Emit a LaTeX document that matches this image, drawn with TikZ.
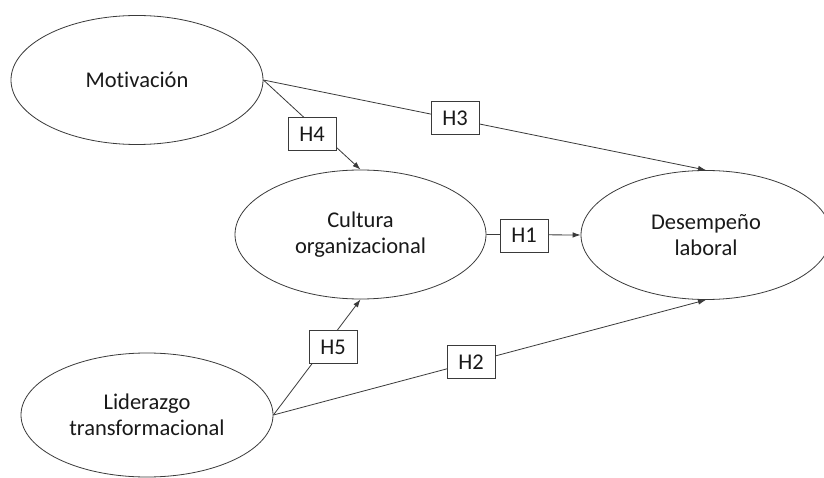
\documentclass[tikz,border=0pt]{standalone}
\usepackage{fontspec}
\setmainfont{Carlito}[RawFeature=-liga]
\usetikzlibrary{shapes.geometric,arrows.meta}
\pgfdeclarelayer{paper}
\pgfdeclarelayer{background}
\pgfsetlayers{paper,background,main}
\definecolor{linegray}{HTML}{3A3A3A}
\tikzset{
  construct/.style={ellipse, draw=linegray, line width=0.8pt, inner sep=0pt, align=center,
    font=\fontsize{22.5}{26}\selectfont, text=black!90},
  hyp/.style={rectangle, draw=linegray, line width=0.8pt, fill=white, minimum width=48pt,
    minimum height=33pt, inner sep=0pt, font=\fontsize{22.5}{26}\selectfont, text=black!90},
  path/.style={draw=linegray, line width=0.8pt},
  arrowpath/.style={path, -{Latex[length=8pt,width=5.5pt]}}
}
\begin{document}
\begin{tikzpicture}[x=1pt,y=-1pt]
\useasboundingbox (0,0) rectangle (824,478);
\begin{pgfonlayer}{paper}
\fill[white] (0,0) rectangle (824,478);
\end{pgfonlayer}
\node[construct, minimum width=252pt, minimum height=129pt] (mot) at (137,80) {Motivación};
\node[construct, minimum width=251pt, minimum height=129pt] (cul) at (360.5,234.5) {Cultura\\organizacional};
\node[construct, minimum width=250pt, minimum height=129pt] (des) at (706,235) {Desempeño\\laboral};
\node[construct, minimum width=252pt, minimum height=124pt] (lid) at (147,415) {Liderazgo\\transformacional};
\node[hyp] (h4) at (312,134) {H4};
\node[hyp] (h3) at (455,118) {H3};
\node[hyp] (h1) at (524,235.5) {H1};
\node[hyp] (h5) at (333,347) {H5};
\node[hyp] (h2) at (471,362) {H2};
\begin{pgfonlayer}{background}
\draw[arrowpath] (mot.east) -- (cul.north);
\draw[arrowpath] (mot.east) -- (des.north);
\draw[arrowpath] (cul.east) -- (des.west);
\draw[arrowpath] (lid.east) -- (cul.south);
\draw[arrowpath] (lid.east) -- (des.south);
\end{pgfonlayer}
\end{tikzpicture}
\end{document}
